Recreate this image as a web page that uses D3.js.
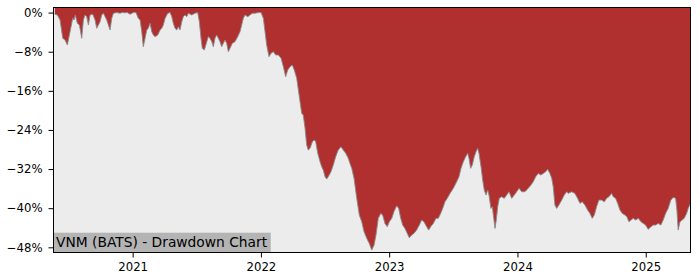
<!DOCTYPE html>
<html>
<head>
<meta charset="utf-8">
<script src="https://cdn.jsdelivr.net/npm/d3@7"></script>
<style>
  html, body { margin: 0; padding: 0; background: #fff; }
  svg { display: block; font-family: "DejaVu Sans", sans-serif; }
</style>
</head>
<body>
<svg id="chart" width="700" height="280"></svg>
<script>
// ===== Data =====
// [decimal year, drawdown %]
const drawdownPoints = [
  [2020.393,-0.35],[2020.413,-0.49],[2020.434,-1.51],[2020.455,-5.26],[2020.473,-5.61],[2020.491,-6.63],[2020.512,-3.91],[2020.533,-1.17],[2020.543,-1.51],[2020.553,-0.49],
  [2020.569,-2.19],[2020.585,-2.54],[2020.603,-5.26],[2020.616,-1.51],[2020.629,-0.49],[2020.642,-0.84],[2020.655,-2.54],[2020.668,-0.49],[2020.689,-0.35],[2020.707,-1.51],
  [2020.720,-3.21],[2020.733,-2.54],[2020.746,-1.86],[2020.759,-0.49],[2020.772,-0.14],[2020.798,-1.51],[2020.824,-3.56],[2020.837,-1.17],[2020.850,-0.14],[2020.876,0],
  [2020.902,-0.14],[2020.915,0],[2020.941,-0.04],[2020.959,0],[2020.980,-0.35],[2021.005,0],[2021.026,0],[2021.044,-1.17],[2021.058,-1.51],[2021.071,-3.91],
  [2021.083,-6.98],[2021.097,-5.26],[2021.110,-3.56],[2021.122,-3.21],[2021.136,-2.19],[2021.149,-3.91],[2021.161,-4.58],[2021.175,-4.93],[2021.196,-4.58],[2021.214,-3.56],
  [2021.227,-3.21],[2021.239,-2.54],[2021.253,-1.17],[2021.274,-0.14],[2021.292,0],[2021.305,-0.84],[2021.317,-2.19],[2021.330,-3.21],[2021.344,-3.56],[2021.356,-2.88],
  [2021.369,-3.56],[2021.383,-1.86],[2021.395,-0.84],[2021.408,-0.49],[2021.422,-0.84],[2021.434,-0.14],[2021.461,-0.49],[2021.486,-0.14],[2021.507,0],[2021.520,-1.86],
  [2021.533,-5.26],[2021.543,-7.30],[2021.559,-7.65],[2021.578,-5.95],[2021.590,-4.93],[2021.603,-5.26],[2021.617,-5.95],[2021.629,-6.98],[2021.642,-5.26],[2021.655,-4.58],
  [2021.668,-5.26],[2021.681,-5.95],[2021.694,-6.98],[2021.707,-6.28],[2021.720,-5.61],[2021.733,-6.28],[2021.746,-8.00],[2021.759,-7.30],[2021.777,-6.28],[2021.798,-5.95],
  [2021.819,-4.93],[2021.837,-3.91],[2021.850,-2.54],[2021.863,-1.17],[2021.876,-0.49],[2021.897,-0.84],[2021.915,-0.49],[2021.933,-0.14],[2021.954,-0.14],[2021.980,0],
  [2022.001,0],[2022.019,-1.17],[2022.032,-3.91],[2022.045,-6.63],[2022.063,-9.02],[2022.079,-8.33],[2022.097,-8.00],[2022.115,-8.67],[2022.136,-8.67],[2022.157,-9.35],
  [2022.175,-11.07],[2022.193,-13.11],[2022.209,-11.74],[2022.227,-11.07],[2022.245,-10.72],[2022.260,-11.74],[2022.279,-13.44],[2022.292,-15.83],[2022.305,-18.23],[2022.318,-20.60],
  [2022.330,-20.95],[2022.344,-23.67],[2022.357,-27.09],[2022.369,-28.11],[2022.383,-27.76],[2022.401,-26.41],[2022.416,-26.06],[2022.427,-26.41],[2022.443,-28.78],[2022.461,-30.50],
  [2022.474,-31.53],[2022.486,-32.20],[2022.500,-33.57],[2022.513,-34.04],[2022.525,-33.57],[2022.546,-32.55],[2022.564,-31.18],[2022.583,-29.48],[2022.603,-28.11],[2022.624,-27.43],
  [2022.642,-28.11],[2022.661,-28.78],[2022.681,-29.81],[2022.694,-30.83],[2022.708,-31.85],[2022.726,-33.90],[2022.747,-37.99],[2022.767,-41.41],[2022.786,-42.78],[2022.804,-44.82],
  [2022.825,-46.17],[2022.845,-47.20],[2022.864,-48.57],[2022.882,-47.55],[2022.897,-45.50],[2022.915,-42.08],[2022.934,-41.06],[2022.949,-41.41],[2022.967,-43.11],[2022.985,-43.80],
  [2023.001,-42.78],[2023.020,-42.08],[2023.037,-40.73],[2023.058,-39.51],[2023.074,-40.04],[2023.090,-42.08],[2023.105,-43.45],[2023.123,-44.13],[2023.141,-45.15],[2023.157,-46.05],
  [2023.175,-45.50],[2023.193,-45.15],[2023.214,-44.48],[2023.235,-43.45],[2023.253,-42.43],[2023.271,-42.78],[2023.292,-43.80],[2023.308,-44.48],[2023.323,-43.80],[2023.344,-43.11],
  [2023.365,-42.08],[2023.383,-42.08],[2023.401,-41.06],[2023.417,-40.04],[2023.435,-38.69],[2023.453,-37.99],[2023.474,-36.97],[2023.500,-35.94],[2023.526,-34.59],[2023.544,-33.57],
  [2023.560,-31.85],[2023.578,-30.50],[2023.596,-29.48],[2023.612,-28.78],[2023.622,-29.81],[2023.635,-31.85],[2023.648,-31.18],[2023.663,-29.48],[2023.677,-28.46],[2023.690,-27.76],
  [2023.700,-28.78],[2023.716,-31.53],[2023.729,-34.25],[2023.741,-36.29],[2023.755,-37.32],[2023.768,-36.29],[2023.778,-37.32],[2023.793,-40.04],[2023.804,-39.71],[2023.815,-42.08],
  [2023.825,-44.13],[2023.835,-42.43],[2023.846,-39.71],[2023.858,-37.99],[2023.877,-37.66],[2023.897,-37.99],[2023.916,-37.32],[2023.934,-36.64],[2023.955,-37.99],[2023.975,-37.32],
  [2023.994,-36.64],[2024.012,-35.94],[2024.033,-36.64],[2024.058,-36.64],[2024.084,-35.94],[2024.105,-35.27],[2024.123,-34.59],[2024.142,-33.57],[2024.162,-32.88],[2024.183,-33.22],
  [2024.201,-32.88],[2024.220,-32.55],[2024.235,-32.06],[2024.253,-32.88],[2024.267,-33.90],[2024.279,-35.62],[2024.292,-39.36],[2024.306,-40.04],[2024.323,-39.36],[2024.345,-38.34],
  [2024.365,-37.32],[2024.383,-36.64],[2024.396,-36.97],[2024.422,-36.64],[2024.448,-36.97],[2024.469,-37.99],[2024.487,-39.01],[2024.505,-38.69],[2024.526,-39.36],[2024.547,-40.38],
  [2024.565,-41.06],[2024.583,-42.08],[2024.599,-41.41],[2024.617,-39.71],[2024.635,-38.34],[2024.656,-38.34],[2024.677,-38.69],[2024.695,-37.99],[2024.713,-37.66],[2024.734,-36.97],
  [2024.747,-37.66],[2024.765,-37.99],[2024.781,-39.01],[2024.799,-40.38],[2024.817,-41.06],[2024.838,-41.41],[2024.853,-41.76],[2024.869,-42.78],[2024.885,-42.43],[2024.903,-42.08],
  [2024.921,-42.43],[2024.942,-42.08],[2024.963,-42.78],[2024.981,-43.11],[2024.999,-43.45],[2025.019,-44.33],[2025.041,-43.80],[2025.058,-43.45],[2025.077,-43.45],[2025.097,-43.11],
  [2025.118,-43.45],[2025.136,-42.43],[2025.155,-41.06],[2025.175,-40.04],[2025.196,-38.34],[2025.214,-37.79],[2025.233,-37.99],[2025.243,-40.38],[2025.253,-44.48],[2025.267,-42.78],
  [2025.284,-42.43],[2025.300,-42.08],[2025.319,-41.06],[2025.331,-40.04],[2025.349,-39.01]
];

const xTickYears = [2021, 2022, 2023, 2024, 2025];
const yTickValues = [0, -8, -16, -24, -32, -40, -48];
const xDomain = [2020.383, 2025.349];
const yDomain = [-49.06, 1.04];
const chartTitle = "VNM (BATS) - Drawdown Chart";

// ===== Layout =====
const plot = { left: 53.5, right: 690.5, top: 7.5, bottom: 252.5 };

const svg = d3.select('#chart');

const x = d3.scaleLinear().domain(xDomain).range([plot.left, plot.right]);
const y = d3.scaleLinear().domain(yDomain).range([plot.bottom, plot.top]);

// Plot background
svg.append('rect')
    .attr('x', plot.left).attr('y', plot.top)
    .attr('width', plot.right - plot.left).attr('height', plot.bottom - plot.top)
    .style('fill', '#ececec');

// Drawdown fill: from top of the axes down to the curve
const area = d3.area()
    .x(d => x(d[0]))
    .y0(plot.top)
    .y1(d => y(d[1]));

svg.append('path')
    .datum(drawdownPoints)
    .attr('d', area)
    .style('fill', '#b03030');

const line = d3.line()
    .x(d => x(d[0]))
    .y(d => y(d[1]));

svg.append('path')
    .datum(drawdownPoints)
    .attr('d', line)
    .style('fill', 'none')
    .style('stroke', '#8a8a8a')
    .style('stroke-width', '0.9px');

// Title label in the bottom-left corner
const labelText = svg.append('text')
    .attr('x', plot.left + 2.5)
    .attr('y', 246.7)
    .style('font-size', '13.8px')
    .style('fill', '#000')
    .text(chartTitle);

const tb = labelText.node().getBBox();
svg.insert('rect', () => labelText.node())
    .attr('x', plot.left)
    .attr('y', 232.7)
    .attr('width', tb.x + tb.width + 3 - plot.left)
    .attr('height', plot.bottom - 232.7)
    .style('fill', '#b4b4b4');

// ===== Axes =====
const yAxis = d3.axisLeft(y)
    .tickValues(yTickValues)
    .tickFormat(d => d3.format('.0f')(d) + '%')
    .tickSize(5)
    .tickPadding(6);

const xAxis = d3.axisBottom(x)
    .tickValues(xTickYears)
    .tickFormat(d3.format('d'))
    .tickSize(5)
    .tickPadding(5);

const gy = svg.append('g')
    .attr('transform', `translate(${plot.left},0)`)
    .call(yAxis);

const gx = svg.append('g')
    .attr('transform', `translate(0,${plot.bottom})`)
    .call(xAxis);

[gx, gy].forEach(g => {
    g.select('.domain').remove();
    g.selectAll('.tick line').style('stroke', '#000').style('stroke-width', '1px');
    g.selectAll('.tick text')
        .style('font-family', '"DejaVu Sans", sans-serif')
        .style('font-size', '11.7px')
        .style('fill', '#000');
});

// Spines
svg.append('rect')
    .attr('x', plot.left).attr('y', plot.top)
    .attr('width', plot.right - plot.left).attr('height', plot.bottom - plot.top)
    .style('fill', 'none')
    .style('stroke', '#000')
    .style('stroke-width', '1px');
</script>
</body>
</html>
